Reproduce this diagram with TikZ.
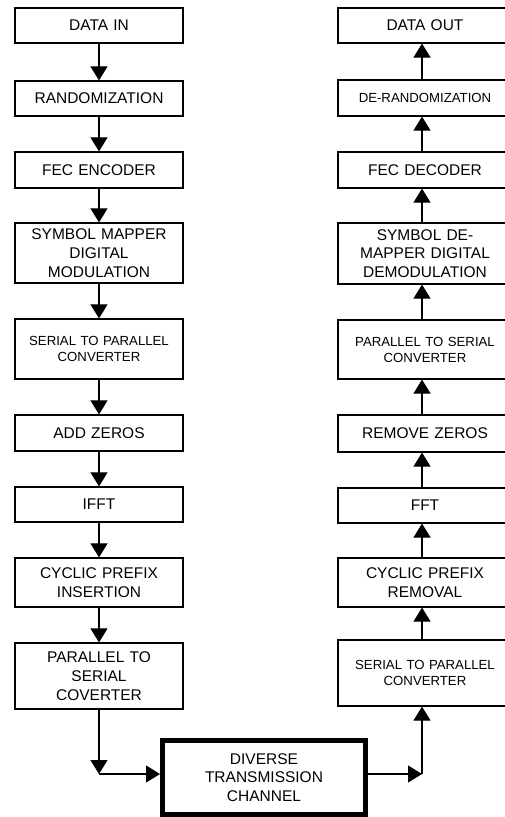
\documentclass[tikz,border=0pt]{standalone}
\usepackage{fontspec}
\setmainfont{Liberation Sans}
\usetikzlibrary{arrows.meta}
\tikzset{
  blk/.style={draw=black, line width=1.2pt, inner sep=0pt, minimum width=168pt, text width=160pt, align=center, font=\fontsize{15.5}{18.7}\selectfont},
  blks/.style={blk, font=\fontsize{13.2}{16}\selectfont},
  rblk/.style={blk, minimum width=174pt},
  rblks/.style={blks, minimum width=174pt},
  chan/.style={draw=black, line width=5pt, inner sep=0pt, minimum width=203pt, minimum height=73.5pt, text width=190pt, align=center, font=\fontsize{15.5}{18.7}\selectfont},
  arr/.style={line width=1.1pt, -{Triangle[width=17pt,length=14pt]}},
  rs/.style={xshift=-3pt}
}
\begin{document}
\begin{tikzpicture}[x=1pt,y=-1pt]
\useasboundingbox (0,0) rectangle (504,817);
% left column
\node[blk, minimum height=35pt] (din) at (99,25.5) {DATA IN};
\node[blk, minimum height=35pt] (rnd) at (99,98.5) {RANDOMIZATION};
\node[blk, minimum height=36pt] (fec) at (99,170) {FEC ENCODER};
\node[blk, minimum height=60pt] (sym) at (99,253) {SYMBOL MAPPER\\DIGITAL\\MODULATION};
\node[blks, minimum height=60pt] (stp) at (99,349) {SERIAL TO PARALLEL\\CONVERTER};
\node[blk, minimum height=36pt] (add) at (99,433) {ADD ZEROS};
\node[blk, minimum height=35pt] (ifft) at (99,504.5) {IFFT};
\node[blk, minimum height=49pt] (cpi) at (99,582.5) {CYCLIC PREFIX\\INSERTION};
\node[blk, minimum height=66pt] (pts) at (99,676) {PARALLEL TO\\SERIAL\\COVERTER};
% right column (right edge runs off the picture)
\node[rblk, minimum height=35pt] (dout) at (425,25.5) {DATA OUT};
\node[rblks, minimum height=36pt] (drnd) at (425,98) {DE-RANDOMIZATION};
\node[rblk, minimum height=36pt] (fecd) at (425,170) {FEC DECODER};
\node[rblk, minimum height=61pt] (symd) at (425,253.5) {SYMBOL DE-\\MAPPER DIGITAL\\DEMODULATION};
\node[rblks, minimum height=59pt] (ptsr) at (425,349.5) {PARALLEL TO SERIAL\\CONVERTER};
\node[rblk, minimum height=37pt] (rmz) at (425,433.5) {REMOVE ZEROS};
\node[rblk, minimum height=35pt] (fft) at (425,505.5) {FFT};
\node[rblk, minimum height=49pt] (cpr) at (425,582.5) {CYCLIC PREFIX\\REMOVAL};
\node[rblks, minimum height=66pt] (stpr) at (425,673) {SERIAL TO PARALLEL\\CONVERTER};
% channel
\node[chan] (ch) at (264,777.5) {DIVERSE\\TRANSMISSION\\CHANNEL};
\coordinate (c1) at (99,774);
\coordinate (c2) at (422,774);
% left arrows
\draw[arr] (din) -- (rnd);
\draw[arr] (rnd) -- (fec);
\draw[arr] (fec) -- (sym);
\draw[arr] (sym) -- (stp);
\draw[arr] (stp) -- (add);
\draw[arr] (add) -- (ifft);
\draw[arr] (ifft) -- (cpi);
\draw[arr] (cpi) -- (pts);
\draw[arr] (pts.south) -- (c1);
\draw[arr] (c1) -- (c1 -| ch.west);
% right arrows
\draw[arr] (c1 -| ch.east) -- (c2);
\draw[arr] (c2) -- (c2 |- stpr.south);
\draw[arr] ([rs]stpr.north) -- ([rs]cpr.south);
\draw[arr] ([rs]cpr.north) -- ([rs]fft.south);
\draw[arr] ([rs]fft.north) -- ([rs]rmz.south);
\draw[arr] ([rs]rmz.north) -- ([rs]ptsr.south);
\draw[arr] ([rs]ptsr.north) -- ([rs]symd.south);
\draw[arr] ([rs]symd.north) -- ([rs]fecd.south);
\draw[arr] ([rs]fecd.north) -- ([rs]drnd.south);
\draw[arr] ([rs]drnd.north) -- ([rs]dout.south);
\end{tikzpicture}
\end{document}
